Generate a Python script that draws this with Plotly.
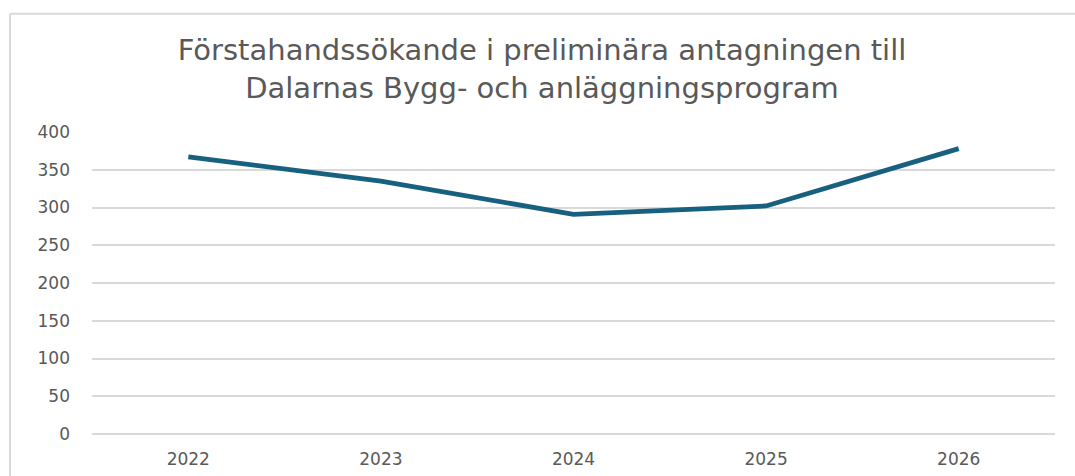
import plotly.graph_objects as go

# Data
years = ["2022", "2023", "2024", "2025", "2026"]
applicants = [367, 335, 291, 302, 378]
y_ticks = [0, 50, 100, 150, 200, 250, 300, 350, 400]

title_text = "Förstahandssökande i preliminära antagningen till<br>Dalarnas Bygg- och anläggningsprogram"

W, H = 1075, 476
PL, PR, PT, PB = 91.6, 1055.4, 132.0, 433.6
pw, ph = PR - PL, PB - PT

fig = go.Figure()
fig.add_trace(go.Scatter(
    x=years, y=applicants, mode="lines",
    line=dict(color="#17607f", width=4.8),
    showlegend=False, hoverinfo="x+y",
))

# chart frame (decoration): left and top edges only
fx0 = (9.5 - PL) / pw
fx1 = (W + 20 - PL) / pw
fy1 = (PB - 14.0) / ph
fy0 = (PB - H - 20) / ph
frame = dict(color="#d9d9d9", width=2)
fig.add_shape(type="line", xref="paper", yref="paper", x0=fx0, x1=fx0, y0=fy0, y1=fy1,
              line=frame, layer="below")
fig.add_shape(type="line", xref="paper", yref="paper", x0=fx0, x1=fx1, y0=fy1, y1=fy1,
              line=frame, layer="below")

fig.update_layout(
    width=W, height=H,
    margin=dict(l=PL, r=W - PR, t=PT, b=H - PB, pad=0),
    paper_bgcolor="white", plot_bgcolor="white",
    title=dict(text=title_text, x=542 / W, xanchor="center", xref="container",
               y=1 - 60 / H, yanchor="top", yref="container",
               font=dict(family="DejaVu Sans", size=29, color="#595959")),
    xaxis=dict(type="category", range=[-0.5, 4.5], showgrid=False, showline=False,
               zeroline=False, ticks="", automargin=False,
               tickfont=dict(family="DejaVu Sans", size=17, color="#595959"),
               ticklabelstandoff=13),
    yaxis=dict(range=[0, 400], tickvals=y_ticks, showgrid=True, gridcolor="#d9d9d9",
               gridwidth=1.5, zeroline=True, zerolinecolor="#d9d9d9", zerolinewidth=1.5,
               showline=False, ticks="", automargin=False,
               tickfont=dict(family="DejaVu Sans", size=17, color="#595959"),
               ticklabelstandoff=21),
)

fig.write_html(
    "out.html",
    config={"displayModeBar": False},
    post_script=(
        "document.body.style.margin='0';"
        "document.body.style.overflow='hidden';"
        "document.documentElement.style.overflow='hidden';"
    ),
)
